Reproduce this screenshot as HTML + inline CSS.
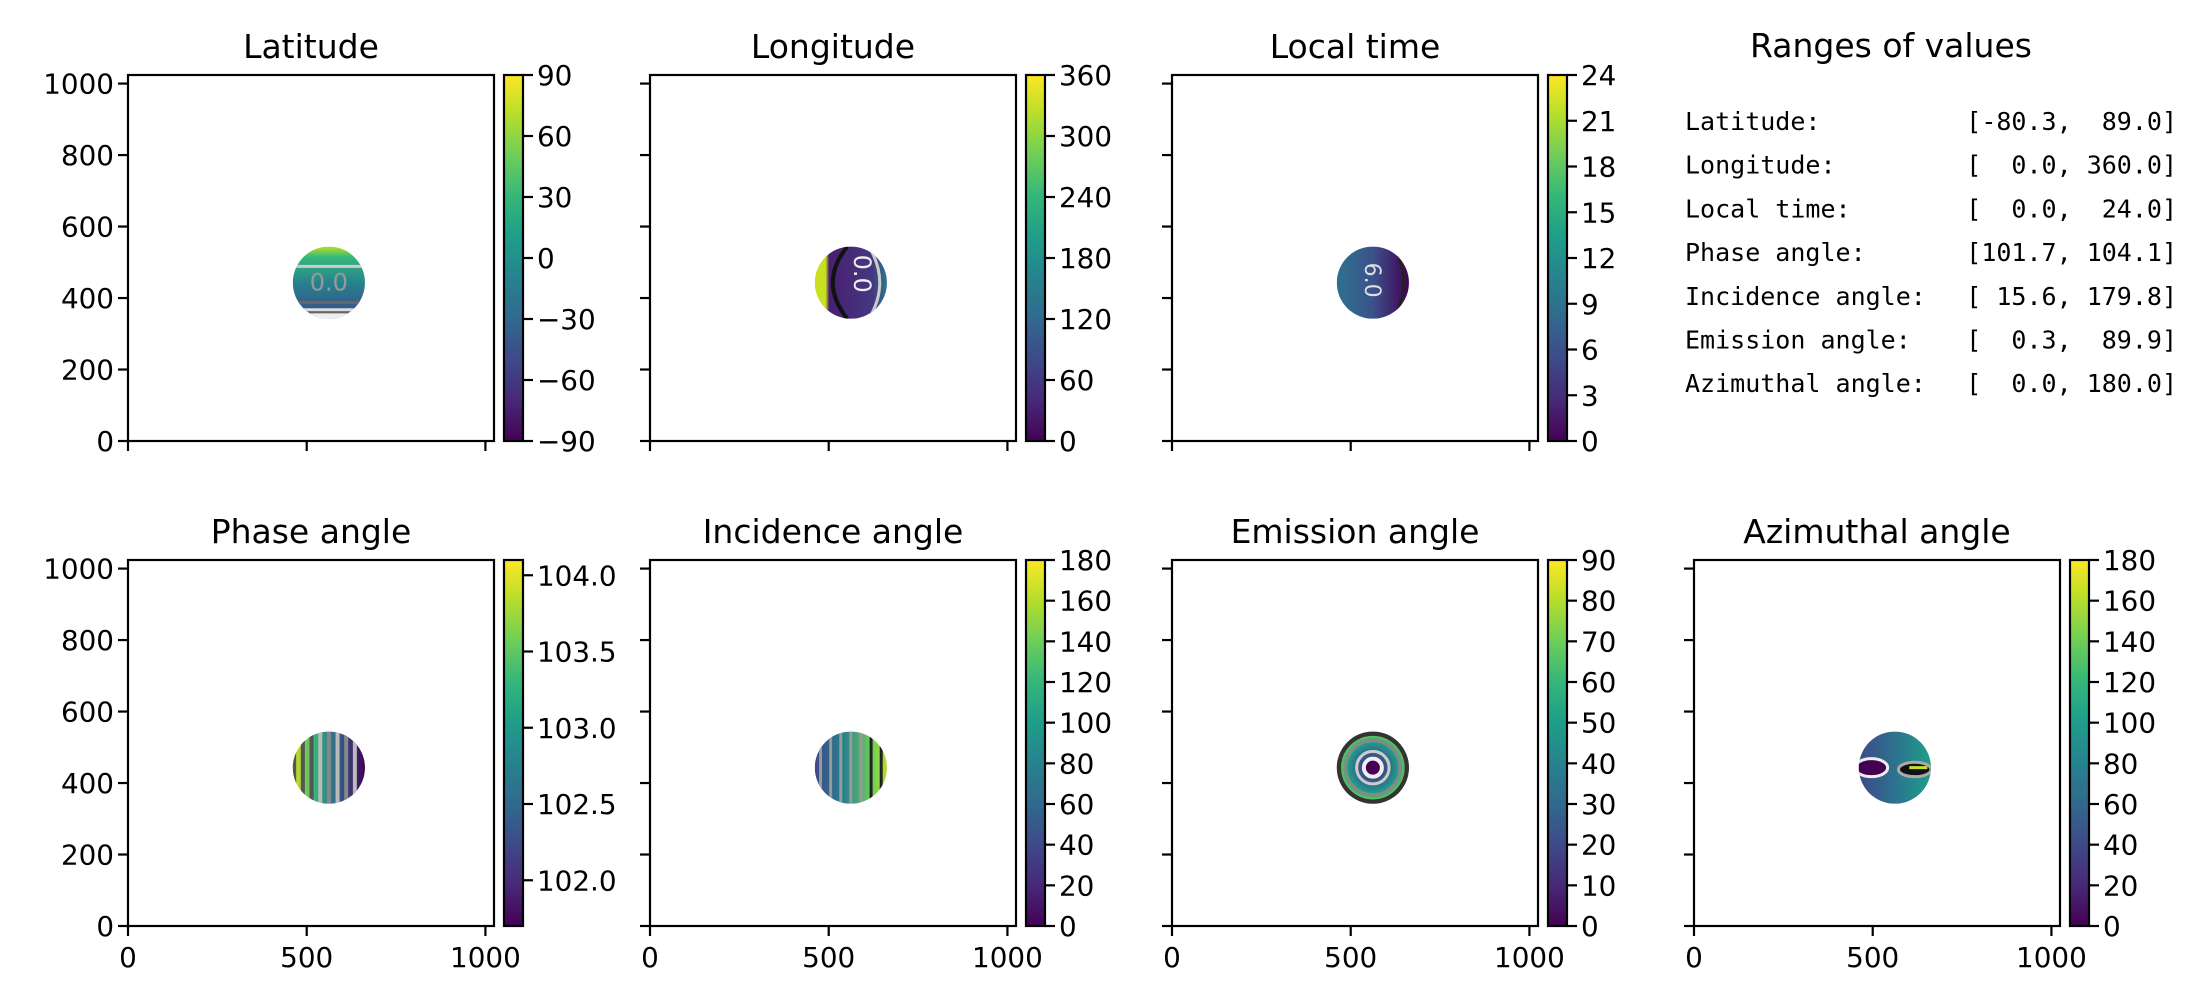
<!DOCTYPE html>
<html><head><meta charset="utf-8"><style>
html,body{margin:0;padding:0;background:#fff;}
svg{display:block;}
text{font-family:"DejaVu Sans","Liberation Sans",sans-serif;}
.mono{font-family:"DejaVu Sans Mono","Liberation Mono",monospace;font-size:25px;}
</style></head><body>
<svg id="fig" width="2200" height="1000" viewBox="0 0 2200 1000" xmlns="http://www.w3.org/2000/svg">
<defs>
<linearGradient id="viridis" x1="0" y1="1" x2="0" y2="0">
<stop offset="0" stop-color="#440154"/><stop offset="0.11" stop-color="#482878"/><stop offset="0.22" stop-color="#3e4989"/><stop offset="0.33" stop-color="#31688e"/><stop offset="0.44" stop-color="#26828e"/><stop offset="0.56" stop-color="#1f9e89"/><stop offset="0.67" stop-color="#35b779"/><stop offset="0.78" stop-color="#6ece58"/><stop offset="0.89" stop-color="#b5de2b"/><stop offset="1" stop-color="#fde725"/>
</linearGradient>
<linearGradient id="latG" x1="0" y1="1" x2="0" y2="0"><stop offset="0" stop-color="#3e4989"/><stop offset="0.5" stop-color="#26828e"/><stop offset="0.85" stop-color="#35b779"/><stop offset="1" stop-color="#b5de2b"/></linearGradient>
<linearGradient id="lonG" x1="0" y1="0" x2="1" y2="0"><stop offset="0" stop-color="#c8e020"/><stop offset="0.15" stop-color="#c8e020"/><stop offset="0.2" stop-color="#481f70"/><stop offset="0.8" stop-color="#453781"/><stop offset="1" stop-color="#2a788e"/></linearGradient>
<linearGradient id="ltG" x1="0" y1="0" x2="1" y2="0"><stop offset="0" stop-color="#2c728e"/><stop offset="0.5" stop-color="#3b528b"/><stop offset="1" stop-color="#440154"/></linearGradient>
<linearGradient id="phG" x1="0" y1="0" x2="1" y2="0"><stop offset="0" stop-color="#dde318"/><stop offset="0.3" stop-color="#35b779"/><stop offset="0.6" stop-color="#31688e"/><stop offset="1" stop-color="#440154"/></linearGradient>
<linearGradient id="inG" x1="0" y1="0" x2="1" y2="0"><stop offset="0" stop-color="#3e4989"/><stop offset="0.4" stop-color="#26828e"/><stop offset="0.8" stop-color="#6ece58"/><stop offset="1" stop-color="#b5de2b"/></linearGradient>
<radialGradient id="emG"><stop offset="0" stop-color="#440154"/><stop offset="0.3" stop-color="#3e4989"/><stop offset="0.7" stop-color="#1f9e89"/><stop offset="1" stop-color="#8fd744"/></radialGradient>
<linearGradient id="azG" x1="0" y1="0" x2="1" y2="0"><stop offset="0" stop-color="#3e4989"/><stop offset="0.5" stop-color="#2c728e"/><stop offset="1" stop-color="#1f9e89"/></linearGradient>
</defs>
</svg>
<script>
const NS="http://www.w3.org/2000/svg";
const svg=document.getElementById('fig');
const panelTitles=["Latitude","Longitude","Local time","Phase angle","Incidence angle","Emission angle","Azimuthal angle"];
const cbMin=[-90,0,0,101.7,0,0,0];
const cbMax=[90,360,24,104.1,180,90,180];
const cbTicks=[[-90,-60,-30,0,30,60,90],[0,60,120,180,240,300,360],[0,3,6,9,12,15,18,21,24],[102.0,102.5,103.0,103.5,104.0],[0,20,40,60,80,100,120,140,160,180],[0,10,20,30,40,50,60,70,80,90],[0,20,40,60,80,100,120,140,160,180]];
const cbTickLabels=[["−90","−60","−30","0","30","60","90"],["0","60","120","180","240","300","360"],["0","3","6","9","12","15","18","21","24"],["102.0","102.5","103.0","103.5","104.0"],["0","20","40","60","80","100","120","140","160","180"],["0","10","20","30","40","50","60","70","80","90"],["0","20","40","60","80","100","120","140","160","180"]];
const axisTicks=[0,200,400,600,800,1000];
const xAxisTicks=[0,500,1000];
const diskCenter=[562,443];
const diskRadius=101;
const fills=["latG","lonG","ltG","phG","inG","emG","azG"];
const rangeNames=["Latitude:","Longitude:","Local time:","Phase angle:","Incidence angle:","Emission angle:","Azimuthal angle:"];
const rangeVals=["[-80.3,  89.0]","[  0.0, 360.0]","[  0.0,  24.0]","[101.7, 104.1]","[ 15.6, 179.8]","[  0.3,  89.9]","[  0.0, 180.0]"];

const colLeft=[128,650,1172,1694];
const rowTop=[75,560];
const AW=366,AH=366,DMAX=1024;

function el(tag,attrs,parent){const e=document.createElementNS(NS,tag);for(const k in attrs)e.setAttribute(k,attrs[k]);(parent||svg).appendChild(e);return e;}

const slots=[[0,0],[0,1],[0,2],[1,0],[1,1],[1,2],[1,3]];
slots.forEach((s,i)=>{
  const L=colLeft[s[1]],T=rowTop[s[0]];
  const sx=v=>L+v/DMAX*AW, sy=v=>T+AH-v/DMAX*AH;
  const g=el('g',{});
  
  
  const t=el('text',{x:L+AW/2,y:T-17,'font-size':33,'text-anchor':'middle'},g);
  t.textContent=panelTitles[i];
  
  
  // disk
  const cx=sx(diskCenter[0]),cy=sy(diskCenter[1]),r=diskRadius/DMAX*AW;
  const clipId='clip'+i;
  const cp=el('clipPath',{id:clipId},g);el('circle',{cx:cx,cy:cy,r:r},cp);
  const dg=el('g',{'clip-path':'url(#'+clipId+')'},g);
  
  
  el('rect',{x:cx-r,y:cy-r,width:2*r,height:2*r,fill:'url(#'+fills[i]+')'},dg);
  if(i===0){[-0.85,-0.55,0.45].forEach((f,k)=>el('line',{x1:cx-r,x2:cx+r,y1:cy-f*r,y2:cy-f*r,stroke:k==2?'#ccc':'#666','stroke-width':3},dg));
    el('line',{x1:cx-r,x2:cx+r,y1:cy+0.75*r,y2:cy+0.75*r,stroke:'#ddd','stroke-width':3},dg);
    el('rect',{x:cx-r,y:cy+0.85*r,width:2*r,height:0.3*r,fill:'#eee'},dg);
    const tt=el('text',{x:cx,y:cy+8,'font-size':24,fill:'#999','text-anchor':'middle'},dg);tt.textContent='0.0';}
  if(i===1){el('path',{d:`M${cx-0.1*r} ${cy-r} Q${cx-0.9*r} ${cy} ${cx-0.1*r} ${cy+r}`,stroke:'#111','stroke-width':4,fill:'none'},dg);
    el('path',{d:`M${cx+0.5*r} ${cy-r} Q${cx+1.1*r} ${cy} ${cx+0.5*r} ${cy+r}`,stroke:'#ccc','stroke-width':3,fill:'none'},dg);
    const tt=el('text',{'font-size':24,fill:'#eee',transform:`translate(${cx+3},${cy-28}) rotate(90)`},dg);tt.textContent='0.0';}
  if(i===2){el('path',{d:`M${cx+0.6*r} ${cy-r} Q${cx+1.1*r} ${cy} ${cx+0.6*r} ${cy+r}`,stroke:'#222','stroke-width':3,fill:'none'},dg);
    const tt=el('text',{'font-size':22,fill:'#ddd',transform:`translate(${cx-8},${cy-20}) rotate(90)`},dg);tt.textContent='6.0';}
  if(i===3){for(let k=-4;k<=3;k++)el('line',{x1:cx+k*0.24*r,x2:cx+k*0.24*r,y1:cy-r,y2:cy+r,stroke:k<-1?'#555':(k%2?'#bbb':'#888'),'stroke-width':4},dg);}
  if(i===4){for(let k=-3;k<=3;k++)el('line',{x1:cx+k*0.28*r,x2:cx+k*0.28*r,y1:cy-r,y2:cy+r,stroke:k>1?'#222':'#999','stroke-width':3},dg);}
  if(i===5){[0.95,0.75,0.45].forEach((f,k)=>el('circle',{cx:cx,cy:cy,r:f*r,fill:'none',stroke:['#333','#888','#ccc'][k],'stroke-width':k==0?5:3},dg));
    el('circle',{cx:cx,cy:cy,r:0.25*r,fill:'#440154',stroke:'#eee','stroke-width':4},dg);}
  if(i===6){el('ellipse',{cx:cx-0.65*r,cy:cy,rx:0.45*r,ry:0.25*r,fill:'#440154',stroke:'#eee','stroke-width':3},dg);
    el('ellipse',{cx:cx+0.55*r,cy:cy+0.05*r,rx:0.45*r,ry:0.2*r,fill:'#111',stroke:'#aaa','stroke-width':3},dg);
    el('line',{x1:cx+0.4*r,x2:cx+0.9*r,y1:cy,y2:cy,stroke:'#c8e020','stroke-width':3},dg);}
  // frame
  const fr=el('rect',{x:L,y:T,width:AW,height:AH,fill:'none',stroke:'#000','stroke-width':2.2},g);
  
  
  // y ticks
  axisTicks.forEach(v=>{const y=sy(v);el('line',{x1:L-10,x2:L,y1:y,y2:y,stroke:'#000','stroke-width':2.2},g);
    if(s[1]===0){const tl=el('text',{x:L-14,y:y+10,'font-size':27.8,'text-anchor':'end'},g);tl.textContent=String(v);
      }});
  xAxisTicks.forEach(v=>{const x=sx(v);el('line',{x1:x,x2:x,y1:T+AH,y2:T+AH+10,stroke:'#000','stroke-width':2.2},g);
    if(s[0]===1){const tl=el('text',{x:x,y:T+AH+41,'font-size':27.8,'text-anchor':'middle'},g);tl.textContent=String(v);
      }});
  // colorbar
  const cbx=L+AW+10,cbw=19;
  const cb=el('g',{},g);
  
  
  el('rect',{x:cbx,y:T,width:cbw,height:AH,fill:'url(#viridis)',stroke:'#000','stroke-width':2.2},cb);
  const cy2=v=>T+AH-(v-cbMin[i])/(cbMax[i]-cbMin[i])*AH;
  cbTicks[i].forEach((v,k)=>{const y=cy2(v);el('line',{x1:cbx+cbw,x2:cbx+cbw+10,y1:y,y2:y,stroke:'#000','stroke-width':2.2},cb);
    const tl=el('text',{x:cbx+cbw+14,y:y+10,'font-size':27.8},cb);tl.textContent=cbTickLabels[i][k];
    });
});
// ranges text
const rg=el('g',{});


const rt=el('text',{x:1891,y:57,'font-size':33,'text-anchor':'middle'},rg);rt.textContent='Ranges of values';

rangeNames.forEach((n,k)=>{const y=130+k*43.7;
  const a=el('text',{x:1685,y:y,'class':'mono','xml:space':'preserve'},rg);a.textContent=n;
  
  const b=el('text',{x:2177,y:y,'class':'mono','text-anchor':'end','xml:space':'preserve'},rg);b.textContent=rangeVals[k];
  b.style.whiteSpace='pre';
  });
</script>
</body></html>
